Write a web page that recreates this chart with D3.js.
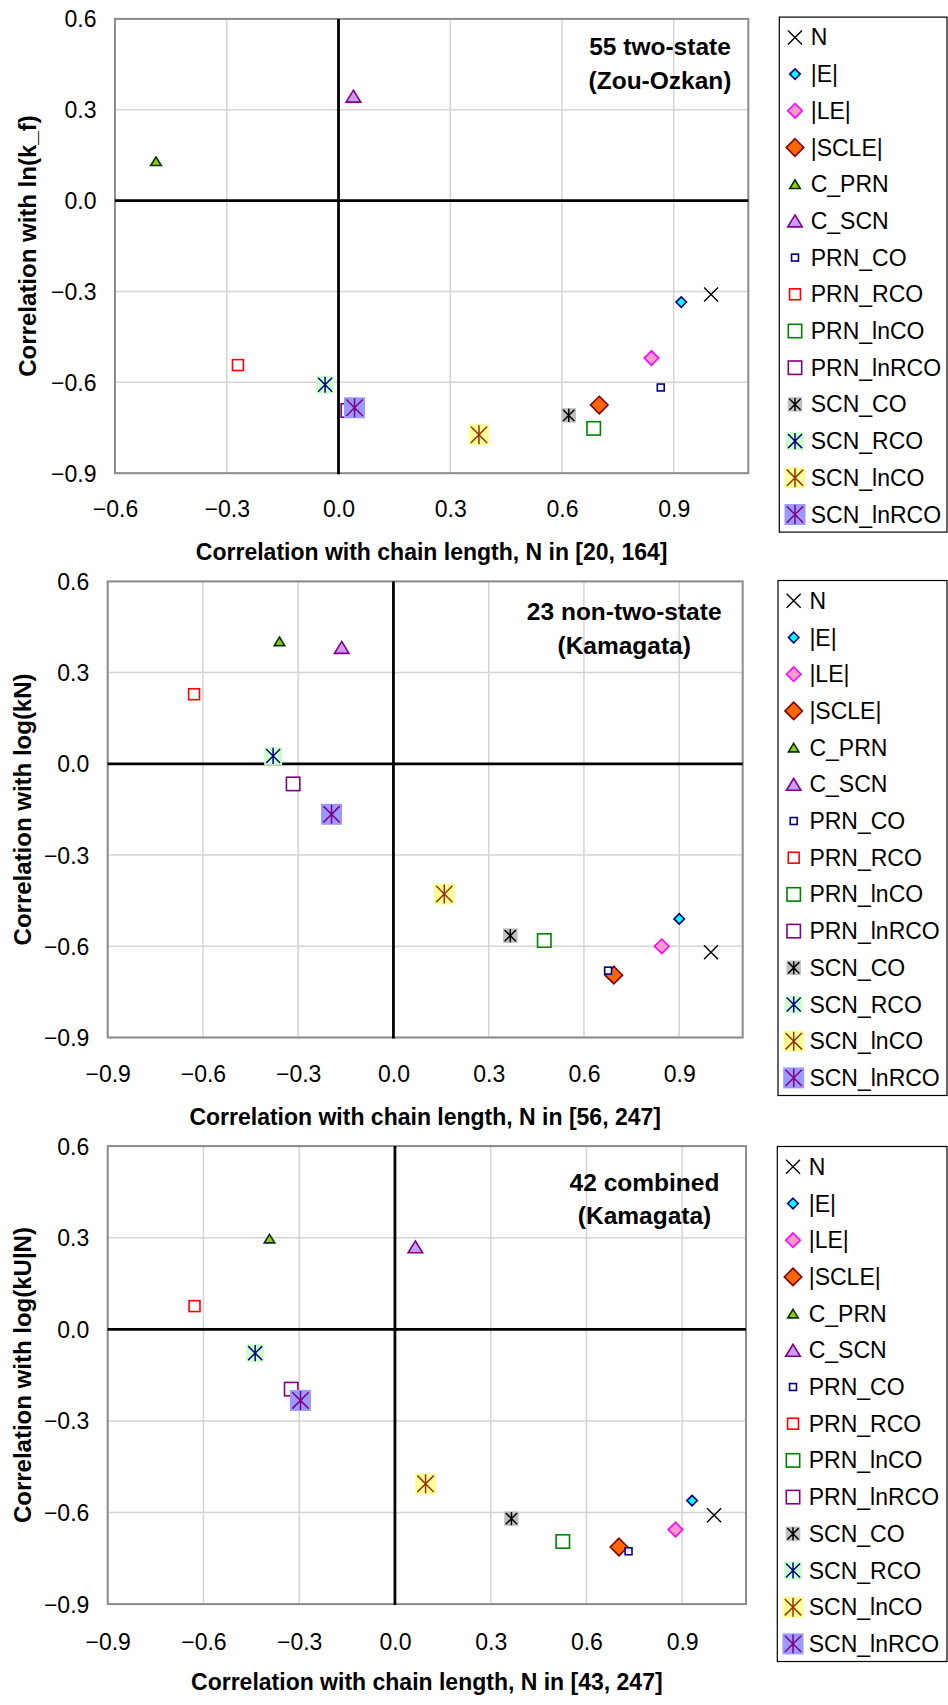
<!DOCTYPE html>
<html>
<head>
<meta charset="utf-8">
<script src="https://cdn.jsdelivr.net/npm/d3@7"></script>
<style>
  html, body { margin: 0; padding: 0; background: #fff; }
  svg { display: block; font-family: "Liberation Sans", Arial, sans-serif; }
</style>
</head>
<body>
<svg id="chart" width="948" height="1705"></svg>
<script>
// Series (one per structural descriptor), in drawing/legend order
const seriesNames = ["N", "|E|", "|LE|", "|SCLE|", "C_PRN", "C_SCN",
  "PRN_CO", "PRN_RCO", "PRN_lnCO", "PRN_lnRCO",
  "SCN_CO", "SCN_RCO", "SCN_lnCO", "SCN_lnRCO"];

// 55 two-state proteins (Zou-Ozkan): correlation with N, correlation with ln(k_f)
const twoStateX = [1.00, 0.92, 0.84, 0.70, -0.49, 0.04, 0.865, -0.27, 0.685, 0.025, 0.618, -0.036, 0.377, 0.043];
const twoStateY = [-0.31, -0.335, -0.52, -0.675, 0.13, 0.345, -0.617, -0.543, -0.752, -0.693, -0.709, -0.608, -0.773, -0.684];

// 23 non-two-state proteins (Kamagata): correlation with N, correlation with log(kN)
const nonTwoStateX = [1.00, 0.90, 0.845, 0.694, -0.359, -0.163, 0.676, -0.628, 0.475, -0.316, 0.368, -0.379, 0.160, -0.195];
const nonTwoStateY = [-0.62, -0.51, -0.60, -0.695, 0.403, 0.383, -0.68, 0.229, -0.581, -0.066, -0.565, 0.026, -0.428, -0.166];

// 42 combined proteins (Kamagata): correlation with N, correlation with log(kU|N)
const combinedX = [1.00, 0.931, 0.879, 0.702, -0.393, 0.064, 0.732, -0.628, 0.526, -0.325, 0.365, -0.438, 0.096, -0.296];
const combinedY = [-0.609, -0.561, -0.656, -0.713, 0.297, 0.270, -0.727, 0.076, -0.695, -0.196, -0.620, -0.078, -0.506, -0.233];

// Tick values
const xTicksTwoState = [-0.6, -0.3, 0.0, 0.3, 0.6, 0.9];
const xTicksKamagata = [-0.9, -0.6, -0.3, 0.0, 0.3, 0.6, 0.9];
const yTicks = [-0.9, -0.6, -0.3, 0.0, 0.3, 0.6];

// Axis titles and panel notes
const xTitles = ["Correlation with chain length, N in [20, 164]",
                 "Correlation with chain length, N in [56, 247]",
                 "Correlation with chain length, N in [43, 247]"];
const yTitles = ["Correlation with ln(k_f)", "Correlation with log(kN)", "Correlation with log(kU|N)"];
const notes = [["55 two-state", "(Zou-Ozkan)"], ["23 non-two-state", "(Kamagata)"], ["42 combined", "(Kamagata)"]];

// Marker styles per series
const markerStyles = [
  { shape: "x",        size: 14,   fill: "none",    stroke: "#000000" },
  { shape: "diamond",  size: 10.5, fill: "#00FFFF", stroke: "#000080" },
  { shape: "diamond",  size: 14.5, fill: "#FF99CC", stroke: "#FF00FF" },
  { shape: "diamond",  size: 17.5, fill: "#FF6600", stroke: "#800000" },
  { shape: "triangle", size: 10.5, fill: "#99CC00", stroke: "#003300" },
  { shape: "triangle", size: 14.5, fill: "#CC99FF", stroke: "#800080" },
  { shape: "square",   size: 8.5,  fill: "#FFFFFF", stroke: "#000080" },
  { shape: "square",   size: 12.5, fill: "#FFFFFF", stroke: "#FF0000" },
  { shape: "square",   size: 15,   fill: "#FFFFFF", stroke: "#008000" },
  { shape: "square",   size: 15,   fill: "#FFFFFF", stroke: "#800080" },
  { shape: "star",     size: 14.5, fill: "#C0C0C0", stroke: "#000000" },
  { shape: "star",     size: 18,   fill: "#CCFFCC", stroke: "#000080" },
  { shape: "star",     size: 21,   fill: "#FFFF99", stroke: "#993300" },
  { shape: "star",     size: 21,   fill: "#9999FF", stroke: "#800080" }
];

// Panel layout
const panels = [
  { xs: twoStateX, ys: twoStateY, xDomain: [-0.6, 1.1], xTicks: xTicksTwoState,
    left: 115, right: 748.3, top: 18.9, bottom: 473.2,
    tickLabelDy: 36, titleDy: 78.5, yTitleX: 28, yTickGap: 18.5,
    legend: { x: 779.3, y: 17.1 }, note: { x: 660, y: 46.4 } },
  { xs: nonTwoStateX, ys: nonTwoStateY, xDomain: [-0.9, 1.1], xTicks: xTicksKamagata,
    left: 107.7, right: 742.7, top: 581.4, bottom: 1037.5,
    tickLabelDy: 36.8, titleDy: 79.5, yTitleX: 22.5, yTickGap: 18.4,
    legend: { x: 778, y: 580.5 }, note: { x: 624.2, y: 611.8 } },
  { xs: combinedX, ys: combinedY, xDomain: [-0.9, 1.1], xTicks: xTicksKamagata,
    left: 107.7, right: 746, top: 1146.1, bottom: 1604.1,
    tickLabelDy: 37.4, titleDy: 77.8, yTitleX: 22.5, yTickGap: 18.4,
    legend: { x: 777.3, y: 1146.5 }, note: { x: 644.5, y: 1182 } }
];

const svg = d3.select("#chart");
const fmt = d3.format(".1f");

function drawMarker(g, style, cx, cy) {
  const s = style.size, h = s / 2;
  const m = g.append("g").attr("transform", `translate(${cx},${cy})`);
  if (style.shape === "x") {
    m.append("path").attr("d", `M${-h},${-h}L${h},${h}M${-h},${h}L${h},${-h}`)
      .attr("stroke", style.stroke).attr("stroke-width", 1.4).attr("fill", "none");
  } else if (style.shape === "diamond") {
    m.append("path").attr("d", `M0,${-h}L${h},0L0,${h}L${-h},0Z`)
      .attr("fill", style.fill).attr("stroke", style.stroke).attr("stroke-width", 1.6);
  } else if (style.shape === "triangle") {
    const th = s * 0.82;
    m.append("path").attr("d", `M0,${-th / 2}L${h},${th / 2}L${-h},${th / 2}Z`)
      .attr("fill", style.fill).attr("stroke", style.stroke).attr("stroke-width", 1.6);
  } else if (style.shape === "square") {
    m.append("rect").attr("x", -h + 0.8).attr("y", -h + 0.8)
      .attr("width", s - 1.6).attr("height", s - 1.6)
      .attr("fill", style.fill).attr("stroke", style.stroke).attr("stroke-width", 1.6);
  } else if (style.shape === "star") {
    m.append("rect").attr("x", -h).attr("y", -h).attr("width", s).attr("height", s)
      .attr("fill", style.fill);
    const a = h * 0.78, v = h * 0.9;
    m.append("path").attr("d", `M${-a},${-a}L${a},${a}M${-a},${a}L${a},${-a}M0,${-v}L0,${v}`)
      .attr("stroke", style.stroke).attr("stroke-width", 1.5).attr("fill", "none");
  }
}

panels.forEach((p, pi) => {
  const x = d3.scaleLinear().domain(p.xDomain).range([p.left, p.right]);
  const y = d3.scaleLinear().domain([-0.9, 0.6]).range([p.bottom, p.top]);
  const g = svg.append("g");

  // gridlines
  g.append("g").selectAll("line").data(p.xTicks).join("line")
    .attr("x1", d => x(d)).attr("x2", d => x(d))
    .attr("y1", p.top).attr("y2", p.bottom)
    .attr("stroke", "#D4D4D4").attr("stroke-width", 1.5);
  g.append("g").selectAll("line").data(yTicks).join("line")
    .attr("x1", p.left).attr("x2", p.right)
    .attr("y1", d => y(d)).attr("y2", d => y(d))
    .attr("stroke", "#D4D4D4").attr("stroke-width", 1.5);

  // plot frame
  g.append("rect").attr("x", p.left).attr("y", p.top)
    .attr("width", p.right - p.left).attr("height", p.bottom - p.top)
    .attr("fill", "none").attr("stroke", "#8C8C8C").attr("stroke-width", 2);

  // zero axes
  g.append("line").attr("x1", p.left).attr("x2", p.right)
    .attr("y1", y(0)).attr("y2", y(0)).attr("stroke", "#000").attr("stroke-width", 2.8);
  g.append("line").attr("x1", x(0)).attr("x2", x(0))
    .attr("y1", p.top).attr("y2", p.bottom + 1).attr("stroke", "#000").attr("stroke-width", 2.8);

  // tick labels via d3 axes
  const xAxis = g.append("g").attr("transform", `translate(0,${p.bottom})`)
    .call(d3.axisBottom(x).tickValues(p.xTicks).tickSize(0).tickFormat(fmt));
  xAxis.select(".domain").remove();
  xAxis.selectAll("text").attr("y", p.tickLabelDy).attr("dy", "0.35em")
    .attr("font-size", 23).attr("fill", "#000").attr("font-family", "Liberation Sans, Arial, sans-serif");

  const yAxis = g.append("g").attr("transform", `translate(${p.left},0)`)
    .call(d3.axisLeft(y).tickValues(yTicks).tickSize(0).tickFormat(fmt));
  yAxis.select(".domain").remove();
  yAxis.selectAll("text").attr("x", -p.yTickGap).attr("dy", "0.35em")
    .attr("font-size", 23).attr("fill", "#000").attr("font-family", "Liberation Sans, Arial, sans-serif");

  // axis titles
  g.append("text").attr("x", (p.left + p.right) / 2).attr("y", p.bottom + p.titleDy)
    .attr("dy", "0.35em").attr("text-anchor", "middle")
    .attr("font-size", 23).attr("font-weight", "bold").text(xTitles[pi]);
  g.append("text")
    .attr("transform", `translate(${p.yTitleX},${(p.top + p.bottom) / 2}) rotate(-90)`)
    .attr("dy", "0.35em").attr("text-anchor", "middle")
    .attr("font-size", 24).attr("font-weight", "bold").text(yTitles[pi]);

  // panel note
  notes[pi].forEach((line, li) => {
    g.append("text").attr("x", p.note.x).attr("y", p.note.y + li * 33.8)
      .attr("dy", "0.35em").attr("text-anchor", "middle")
      .attr("font-size", 24.5).attr("font-weight", "bold").text(line);
  });

  // markers
  const mg = g.append("g");
  seriesNames.forEach((name, i) => {
    drawMarker(mg, markerStyles[i], x(p.xs[i]), y(p.ys[i]));
  });

  // legend
  const lg = g.append("g").attr("transform", `translate(${p.legend.x},${p.legend.y})`);
  lg.append("rect").attr("x", 0).attr("y", 0).attr("width", 947 - p.legend.x).attr("height", 515)
    .attr("fill", "#fff").attr("stroke", "#000").attr("stroke-width", 1.2);
  seriesNames.forEach((name, i) => {
    const cy = 20.3 + i * 36.7;
    drawMarker(lg, markerStyles[i], 15.7, cy);
    lg.append("text").attr("x", 31.4).attr("y", cy).attr("dy", "0.35em")
      .attr("font-size", 23).text(name);
  });
});
</script>
</body>
</html>
